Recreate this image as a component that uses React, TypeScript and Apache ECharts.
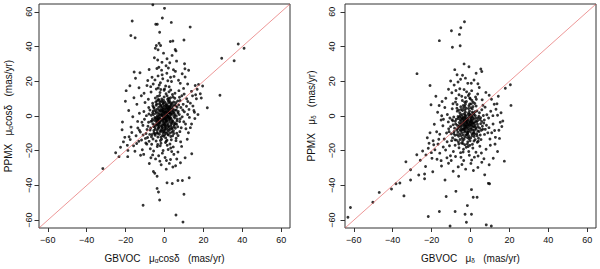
import React, { useEffect, useRef } from "react";
import * as echarts from "echarts";

const ticks = [-60, -40, -20, 0, 20, 40, 60];
const axisMin = -64.5;
const axisMax = 64.5;
const diagonal = [[-64.5, -64.5], [64.5, 64.5]];

const leftTitleX = "GBVOC   μ{sub|α}cosδ   (mas/yr)";
const leftTitleY = "PPMX   μ{sub|α}cosδ   (mas/yr)";
const rightTitleX = "GBVOC   μ{sub|δ}   (mas/yr)";
const rightTitleY = "PPMX   μ{sub|δ}   (mas/yr)";

const leftCore = [
  [-1.2,0.5],[2.3,1.8],[0.4,-2.1],[-3.5,-1.7],[1.7,3.9],[-0.8,-4.6],[3.1,-0.9],[-2.4,2.7],[4.6,2.2],[-4.1,-5.3],
  [0.9,5.1],[-1.9,-2.8],[2.8,-3.4],[-0.3,1.6],[1.4,-1.1],[-2.9,0.8],[3.7,4.8],[-5.2,-2.4],[0.2,-6.3],[5.4,0.6],
  [-1.6,4.1],[2.1,-5.6],[-3.3,-7.2],[4.2,-2.7],[-0.5,7.4],[1.1,2.6],[-4.6,1.5],[3.4,6.9],[-2.2,-9.1],[0.7,-0.4],
  [6.1,3.3],[-6.0,-4.4],[1.9,8.6],[-1.0,-11.2],[4.9,-5.1],[-3.8,3.9],[2.6,0.2],[-0.1,-3.6],[5.8,5.9],[-5.5,-8.3],
  [0.3,3.0],[-2.6,-0.3],[3.0,-7.7],[-4.3,6.2],[1.5,-9.4],[-1.4,9.8],[6.6,-1.8],[-6.8,0.4],[2.4,4.5],[-0.9,-7.9],
  [4.0,1.0],[-3.0,-3.9],[0.6,-12.6],[-2.0,5.6],[3.6,2.9],[-4.9,-6.5],[1.2,6.3],[-1.7,-5.8],[5.1,-3.9],[-3.6,0.1],
  [0.0,0.9],[2.9,-2.0],[-1.3,2.2],[1.8,-4.3],[-2.7,-6.1],[4.4,4.0],[-0.6,-1.4],[2.2,7.6],[-5.8,2.9],[3.3,-5.9],
  [-0.2,10.9],[1.0,-7.0],[-4.0,-9.8],[6.9,1.7],[-2.3,7.9],[0.8,-2.9],[3.9,-9.2],[-3.1,-1.1],[1.6,0.0],[-1.1,3.4],
  [7.3,6.4],[-7.1,-6.9],[2.0,-0.7],[-0.4,-8.8],[4.7,8.1],[-5.0,-0.9],[0.5,1.9],[2.7,5.4],[-2.8,-4.8],[5.6,-7.1],
  [-1.5,-13.4],[1.3,11.6],[-3.9,8.8],[3.2,-11.8],[-6.4,-10.7],[7.8,-3.2],[0.1,-4.9],[-0.7,6.7],[2.5,-6.6],[-4.4,-3.0],
  [-0.4,-0.6],[1.5,1.3],[-1.6,-1.9],[0.9,-1.6],[-2.1,1.1],[2.4,-1.3],[-0.8,2.8],[1.0,-3.2],[-2.5,-3.3],[3.3,0.9],
  [0.2,4.2],[-3.4,-2.4],[2.0,3.4],[-1.2,-5.5],[3.8,-4.1],[-4.6,-1.3],[0.4,-8.1],[-1.9,6.4],[4.3,5.9],[-3.7,-8.4],
  [1.8,-6.1],[-0.5,9.1],[5.3,-1.2],[-5.3,4.4],[2.9,8.0],[-2.6,-10.5],[6.2,-4.8],[-6.4,-2.8],[0.7,-10.0],[-0.1,5.7],
  [4.6,-8.5],[-4.8,-11.1],[7.1,2.6],[-7.4,-8.1],[3.1,10.5],[-3.1,9.6],[5.9,7.7],[-5.9,-13.2],[8.6,-6.8],[-8.0,1.2],
  [-0.9,-2.5],[1.9,-0.2],[-2.8,3.6],[0.6,6.0],[3.5,-1.7],[-1.4,-7.0],[2.6,3.2],[-3.9,-0.6],[0.1,-10.8],[4.8,-0.3],
  [-5.1,-5.1],[1.6,9.7],[-0.2,-5.2],[2.2,-8.3],[-3.0,5.0],[5.5,3.4],[-6.2,-1.7],[0.8,12.8],[-1.8,-12.2],[3.9,7.3],
  [-4.5,8.0],[6.4,-2.9],[-7.0,-3.1],[1.3,-13.9],[-2.3,13.5],[4.2,-11.4],[-5.4,-9.6],[7.6,0.8],[-0.6,4.7],[2.9,1.5],
  [-3.2,-5.5],[1.1,-5.0],[-1.1,0.0],[3.0,4.2],[-4.2,2.4],[0.4,-1.3],[5.0,-6.0],[-2.0,-8.2],[1.8,5.8],[-6.0,5.9],
  [-0.4,2.4],[1.3,-2.6],[-2.4,-1.2],[2.5,2.0],[-1.4,5.3],[0.2,-7.4],[3.4,-4.8],[-3.8,-3.5],[1.0,4.0],[-0.8,-9.7],
  [4.1,-6.8],[-4.7,-7.6],[2.1,10.2],[-2.9,9.0],[5.2,6.5],[-5.7,0.9],
  [-0.3,-1.8],[1.2,0.7],[-1.8,0.4],[0.7,2.3],[2.1,-2.4],[-2.2,-4.1],[0.3,-4.0],[-1.0,-6.6],[1.6,-7.8],[-3.3,1.9],
  [2.7,-1.1],[-0.6,3.9],[3.5,1.9],[-2.9,-2.0],[0.9,7.1],[-1.6,8.6],[4.0,-3.2],[-4.0,-4.6],[2.3,5.1],[-4.8,3.2],
  [0.0,-9.3],[1.7,-10.6],[-3.5,-10.0],[5.0,1.6],[-5.6,-6.0],[3.8,-7.4],[-2.0,3.0],[0.4,0.3],[-0.9,-3.2],[1.4,4.7],
  [-1.5,-8.7],[2.9,-9.8],[-2.6,6.9],[4.5,3.0],[-4.1,-1.9],[0.6,-5.9],[3.2,6.0],[-3.0,-6.8],[1.9,2.2],[-1.1,1.2],
  [5.6,-4.4],[-6.1,1.9],[0.2,8.0],[-0.4,-11.7],[6.1,0.0],[-3.9,6.9],[2.5,9.2],[-5.0,-10.2],[4.8,-10.1],[-2.1,-14.1]
];

const leftHalo = [
  [8.4,4.9],[-8.2,-3.6],[5.3,10.2],[-5.6,5.1],[9.1,-0.5],[-9.0,-7.8],[6.3,-9.9],[-7.5,3.4],[4.1,12.4],[-3.4,-12.1],
  [8.0,8.9],[-8.7,-12.4],[10.2,2.4],[-10.3,-1.9],[6.8,-6.2],[-6.1,7.3],[3.5,-13.7],[-2.5,11.8],[9.6,6.7],[-9.5,-10.1],
  [7.0,-11.3],[-7.9,-14.6],[11.3,5.6],[-11.1,-5.4],[2.3,13.9],[-1.8,-15.7],[5.9,-14.2],[-4.7,10.4],[10.8,-4.6],[-10.6,2.6],
  [12.0,8.3],[-12.4,-9.2],[8.9,11.7],[-6.6,-16.3],[1.4,-16.9],[-0.2,14.8],[4.5,-17.8],[-3.2,16.1],[11.9,0.9],[-11.8,-13.8],
  [-4.2,15.6],[0.6,17.3],[-2.1,19.2],[2.4,16.8],[-5.8,18.4],[-0.9,21.5],[3.6,19.9],[-3.3,23.1],[1.2,24.6],[-6.4,22.3],
  [4.9,22.8],[-1.5,26.4],[0.8,28.9],[2.7,30.7],[-2.9,28.1],[5.6,25.7],[-7.1,16.9],[7.4,14.6],[-8.6,20.4],[8.1,18.8],
  [-10.5,13.1],[9.8,15.9],[-12.6,24.9],[-14.9,21.7],[-13.1,16.3],[11.9,18.4],[13.9,14.2],[15.8,17.6],[16.8,15.4],[17.5,18.2],
  [19.6,17.3],[18.4,12.8],[-19.7,14.6],[-17.8,17.4],[-15.6,25.3],[12.4,26.3],[10.6,22.5],[6.2,31.6],[-5.2,33.5],[3.9,34.9],
  [-0.5,36.2],[10.3,30.1],[10.5,27.2],[1.3,33.0],[-3.5,32.2],
  [-3.7,-17.6],[1.9,-19.3],[-1.1,-21.4],[3.2,-18.4],[-5.6,-20.2],[0.3,-23.9],[4.8,-22.1],[-2.4,-26.0],[2.5,-27.3],[-7.3,-18.9],
  [6.9,-20.8],[-4.6,-24.7],[5.7,-28.6],[-9.1,-16.2],[8.8,-17.5],[-11.4,-19.4],[-13.2,-14.5],[-15.9,-17.2],[-17.6,-13.6],[-19.1,-16.9],
  [-20.4,-12.3],[-22.6,-18.0],[-23.4,-23.4],[-18.8,-19.8],[-18.9,-23.4],[-25.1,-21.2],[-14.6,-11.4],[-21.8,-7.9],[-17.2,-6.4],[-13.8,-3.1],
  [-16.3,-0.4],[-12.3,-22.6],[11.7,-13.4],[14.0,-21.7],[10.6,-24.1],[8.2,-26.9],[4.3,-29.4],[0.9,-30.6],[-7.8,-27.4],[12.3,-9.6],
  [13.9,-4.6],[15.6,-1.5],[17.2,0.8],[15.1,3.2],[13.3,7.4],[16.4,9.9],[14.4,11.6],[-14.2,6.7],[-15.7,10.5],[-18.4,3.2],
  [-20.1,8.5],[-21.6,-3.5],[-12.9,-8.2],[15.4,2.1],[12.8,-0.8],
  [-8.5,-5.9],[2.0,-11.0],[-1.0,8.1],[4.4,10.9],[-3.6,11.3],[6.8,8.7],[-7.6,-10.6],[9.4,3.5],[-9.3,0.2],[8.1,-1.6],
  [0.0,15.5],[-2.7,17.9],[1.7,20.3],[-4.9,20.8],[3.1,22.3],[-1.2,23.7],[-6.9,13.8],[5.4,13.1],[7.7,10.8],[-8.3,9.6],
  [0.5,-15.3],[-2.2,-17.1],[2.8,-16.1],[-4.3,-14.4],[6.0,-12.8],[-0.7,-19.9],[3.7,-20.5],[-6.1,-22.4],[1.0,-25.6],[-3.0,-22.9],
  [8.3,-14.9],[-9.8,-12.9],[11.0,-7.3],[-11.6,-3.6],[12.6,3.8],[-12.9,1.6],[10.1,12.6],[-10.0,7.8],[13.3,-6.7],[-13.7,-6.9],
  [0.9,-14.6],[-1.9,15.3],[3.2,15.0],[-3.5,-16.4],[6.5,5.0],[-6.7,-12.0],[7.9,-9.0],[-8.1,4.9],[9.9,-3.3],[-9.6,-15.5],
  [11.4,9.9],[-11.0,-10.9],[-14.3,-15.8],[14.6,5.7],[-16.8,-9.5],[-18.2,-11.9],[-21.1,-14.9],[-15.2,-20.3],[16.0,12.2],[18.9,10.4],
  [-11.9,11.7],[-9.0,17.5],[7.2,20.6],[9.1,24.3],[-7.9,26.8],[-3.9,27.4],[2.0,27.6],[4.6,26.6],[-1.3,30.9],[-10.7,-22.1],
  [-7.0,-24.0],[3.1,-25.0],[6.3,-24.8],[-1.7,-28.1]
];

const leftOutliers = [
  [-6.0,64.0],[0.0,62.0],[-1.1,56.4],[3.5,53.9],[-16.6,54.7],[-4.5,52.8],[-3.7,52.8],[13.2,51.2],[-2.5,48.2],[-17.3,46.3],
  [-15.1,45.0],[10.0,43.8],[3.0,42.9],[4.3,43.2],[-2.8,41.9],[-4.2,40.6],[-2.0,40.6],[-4.7,39.0],[-3.3,38.1],[5.5,38.3],
  [5.9,37.5],[37.9,41.5],[40.9,39.0],[35.8,31.8],[29.4,33.3],[28.5,12.0],[22.0,4.8],[-31.7,-30.3],[-5.7,-32.0],[-5.0,-33.0],
  [-3.8,-34.7],[1.3,-38.5],[4.0,-38.9],[6.9,-37.1],[9.2,-37.1],[12.7,-35.6],[-3.8,-41.7],[-3.1,-43.8],[-2.5,-48.4],[-11.0,-51.4],
  [10.0,-45.1],[5.9,-57.0],[9.5,-61.1]
];

const rightCore = [
  [-2.4,-2.1],[0.8,0.6],[-4.1,-5.3],[1.6,-3.8],[-6.3,-1.4],[-0.5,2.9],[2.7,-6.6],[-3.2,1.3],[-5.4,-7.9],[3.9,-1.2],
  [-1.3,-9.4],[0.2,4.8],[-7.6,-4.6],[4.6,1.9],[-2.9,-12.1],[-4.8,3.7],[1.1,-8.1],[-0.7,-0.3],[5.2,-4.4],[-8.4,-8.9],
  [-3.7,6.1],[2.3,2.4],[-1.8,-6.3],[-6.1,-11.7],[3.2,-10.2],[-9.1,-2.7],[0.4,-2.6],[-2.1,8.4],[6.3,-7.6],[-5.2,0.4],
  [-0.2,-14.3],[2.9,5.7],[-7.2,-13.9],[4.1,-12.8],[-3.4,-3.6],[1.9,0.9],[-4.4,-9.6],[-1.0,1.8],[7.1,-2.3],[-10.2,-6.1],
  [-2.6,10.6],[0.9,-11.4],[-6.8,2.8],[5.8,3.6],[-1.5,-4.9],[-3.9,-15.8],[3.5,-15.1],[-8.6,-0.6],[1.4,7.9],[-5.7,-5.8],
  [-0.9,-7.4],[2.0,-4.1],[-4.6,-1.0],[-2.2,4.4],[0.6,-5.7],[-6.5,-9.2],[4.4,-8.9],[-3.0,-0.8],[1.7,-1.6],[-1.9,-10.7],
  [-8.0,-11.1],[6.6,0.3],[-5.0,5.3],[-0.3,-16.9],[3.0,9.6],[-9.7,-14.2],[8.2,-5.3],[-11.4,-3.4],[-2.8,-7.0],[0.0,-1.0],
  [-4.2,8.9],[5.0,-10.9],[-7.9,-16.8],[2.4,-13.6],[-1.1,11.8],[-12.3,-9.8],[7.5,5.1],[-6.9,6.6],[9.3,-1.1],[-3.6,-19.1],
  [-1.7,-3.1],[0.3,-1.9],[-3.5,-4.4],[-0.4,-5.4],[-2.7,0.5],[1.2,-4.8],[-4.9,-2.9],[-1.0,-8.3],[0.9,2.1],[-3.1,-6.8],
  [2.6,-2.9],[-5.8,-3.8],[-2.3,-11.0],[-0.8,5.9],[3.9,-6.2],[-6.6,-7.2],[1.5,-9.9],[-4.1,3.1],[4.3,-0.1],[-7.3,-1.9],
  [-3.3,-13.4],[0.1,-12.7],[-5.6,-10.3],[2.2,7.2],[-1.6,-16.1],[6.1,-5.9],[-8.9,-5.1],[-2.6,6.9],[3.1,-3.5],[-9.9,-10.2],
  [5.4,-13.6],[-6.2,-14.9],[-0.1,9.9],[7.2,-10.6],[-11.2,-7.4],[-4.5,11.4],[8.4,0.7],[-7.7,8.0],[2.0,-23.7],[-3.8,-20.8],
  [-2.0,-4.0],[0.5,-3.3],[-3.8,-1.8],[-1.2,0.8],[1.4,-6.4],[-4.7,-6.9],[-0.1,-8.9],[-2.9,3.4],[2.5,0.1],[-5.3,-2.2],
  [-1.6,-12.4],[0.9,4.0],[-6.7,-5.4],[3.6,-4.7],[-3.1,-9.3],[-0.4,6.9],[4.9,-2.0],[-7.8,-3.0],[1.9,-11.8],[-4.3,-12.8],
  [-2.4,0.0],[0.2,-6.9],[-3.9,-7.6],[2.1,-8.0],[-5.5,1.9],[-1.4,-14.9],[3.3,2.9],[-8.2,-7.0],[-0.6,12.8],[5.6,-8.2],
  [-6.0,-16.1],[1.0,-16.3],[-9.2,-12.6],[4.0,-14.5],[-3.0,8.0],[6.8,-4.1],[-10.6,-1.1],[-2.2,-18.0],[0.7,9.0],[-7.0,4.5],
  [-1.9,-1.6],[0.0,-4.3],[-3.2,-2.6],[-0.9,-6.0],[1.0,-2.4],[-2.5,-5.5],[-4.4,0.9],[-0.3,1.2],[2.3,-5.3],[-5.0,-8.6],
  [-1.3,-10.6],[1.8,-9.2],[-3.6,4.6],[-6.4,-0.3],[3.7,-8.6],[-4.0,-14.2],[0.4,7.0],[-8.6,-10.1],[5.2,-1.0],[-2.9,-16.5],
  [-4.3,-1.7],[-2.1,-3.7],[-0.5,-2.7],[-3.4,-5.8],[-1.1,-5.0],[0.6,-0.4],[-2.8,-8.3],[-5.1,-4.6],[1.9,-6.1],[-0.7,-11.8],
  [-2.2,-2.9],[-0.2,-3.6],[-3.6,-3.1],[-1.4,-1.2],[0.4,-7.7],[-4.2,-7.9],[-1.9,-7.2],[-2.6,2.1],[1.3,-0.9],[-5.6,-0.6],
  [-0.8,-13.1],[1.6,1.7],[-6.0,-6.4],[2.9,-7.3],[-3.7,-10.9],[-1.0,4.3],[3.7,-2.6],[-7.1,-8.0],[0.7,-10.2],[-4.8,-11.3],
  [-3.0,-1.1],[-0.9,-3.9],[-2.3,-5.9],[0.3,-5.0],[-4.5,-4.0],[-1.5,-9.8],[2.8,-1.3],[-6.9,-10.8],[-0.4,10.4],[4.7,-7.0],
  [-5.4,-13.5],[1.8,-14.4],[-8.0,-13.7],[3.4,-11.4],[-2.9,5.6],[5.8,-3.1],[-9.5,-2.1],[-1.2,-17.6],[1.3,5.4],[-6.1,3.4],
  [-2.7,-4.9],[-1.3,-2.2],[-3.9,-0.4],[0.9,-4.0],[-5.0,-5.7],[-2.0,-9.0],[-0.1,0.3],[-3.3,-7.8],[2.1,-10.5],[-4.6,-15.5]
];

const rightHalo = [
  [1.2,-18.5],[-5.9,-18.3],[4.8,-17.4],[-10.8,-17.1],[-13.5,-13.2],[8.9,-9.7],[10.4,2.7],[-14.2,-5.6],[-9.4,4.2],[6.0,9.3],
  [-2.0,13.9],[-7.4,10.1],[3.7,12.7],[-11.9,0.9],[11.6,-4.6],[-15.8,-10.5],[-8.8,-20.4],[2.8,-20.9],[-0.6,-22.6],[5.6,-21.3],
  [-4.9,-23.8],[-12.8,-19.6],[-16.7,-16.2],[-18.3,-19.4],[-20.1,-21.1],[-19.2,-14.3],[-21.7,-18.6],[-22.9,-22.4],[-24.6,-20.2],[-17.4,-9.1],
  [-15.1,-2.3],[-13.2,4.9],[-16.9,2.2],[-18.6,-4.8],[-20.8,-9.7],[12.8,-12.3],[14.6,-8.2],[13.9,0.4],[15.3,-3.6],[16.6,-2.9],
  [12.2,6.8],[10.8,9.6],[14.3,11.4],[7.9,13.6],[4.5,16.4],[-5.5,15.7],[-9.6,13.4],[-1.4,18.8],[1.8,20.7],[-6.4,19.6],
  [-4.1,23.5],[-5.1,21.2],[-10.2,20.2],[0.4,18.9],[13.6,7.0],[-17.8,11.4],[-14.6,8.3],[-20.3,6.5],[12.6,-16.2],[10.2,-16.8],
  [13.9,-20.4],[9.6,-28.1],[7.3,-33.9],[-2.5,-30.6],[-8.9,-31.8],[-11.3,-27.2],[-14.9,-28.8],[-17.2,-24.9],[-6.1,-34.7],[-19.4,-32.1],
  [-25.8,-25.5],[-27.6,-22.3],[-23.1,-29.1],[3.8,-29.6],[6.9,-24.6],[-4.4,-27.9],[0.6,-25.4],[-9.9,-25.6],[11.7,-24.3],[-15.8,-21.4],
  [7.6,-7.7],[-11.0,-9.0],[9.5,-6.7],[-12.0,-14.8],[2.6,11.0],[-5.9,12.2],[6.4,6.2],[-9.0,7.1],[10.9,-9.6],[-13.9,-1.9],
  [-3.3,15.2],[0.6,14.6],[-7.5,14.7],[3.8,18.6],[-2.6,21.8],[-8.4,17.8],[9.6,11.9],[-12.7,10.2],[-14.8,0.1],[11.5,0.2],
  [-0.9,-20.4],[-5.1,-21.1],[3.9,-23.0],[-7.7,-23.3],[0.2,-27.3],[-3.5,-25.6],[-10.3,-22.9],[5.8,-26.7],[-6.3,-29.3],[1.5,-31.4],
  [-12.1,-24.1],[-14.0,-17.9],[-16.3,-13.4],[-18.9,-16.6],[-21.3,-15.7],[-22.2,-12.5],[-19.8,-24.4],[-15.1,-25.7],[8.0,-19.2],[10.0,-13.2],
  [12.4,-8.4],[14.9,-12.9],[16.1,-6.0],[13.1,3.9],[15.7,1.9],[-16.1,6.0],[-11.3,15.4],[-6.9,23.8],[2.9,24.6],[-0.8,28.4]
];

const rightOutliers = [
  [-3.1,54.3],[-5.0,50.8],[-9.8,49.1],[-5.7,47.0],[-5.3,40.5],[-9.3,39.6],[-16.0,43.4],[-3.3,30.0],[-8.1,26.7],[5.3,27.1],
  [5.8,25.6],[-27.5,24.4],[-20.8,17.6],[20.5,18.0],[17.9,16.0],[20.8,6.1],[17.4,-26.0],[-33.2,-26.4],[-30.8,-31.0],[-26.6,-34.0],
  [-23.6,-33.4],[-23.6,-36.1],[-30.8,-36.9],[-36.3,-38.6],[-38.3,-39.0],[-40.6,-42.0],[-46.9,-44.0],[-34.2,-46.0],[-50.2,-49.7],[-61.7,-52.7],
  [-63.0,-58.3],[-21.7,-57.9],[-16.0,-55.0],[-13.1,-36.9],[-12.5,-46.4],[-7.5,-43.4],[-7.9,-55.0],[-2.8,-56.6],[-1.6,-51.6],[0.5,-42.4],
  [1.4,-46.8],[3.4,-46.8],[0.5,-56.6],[-2.1,-61.2],[-10.5,-63.4],[8.1,-62.7],[10.7,-63.3],[9.8,-39.0],[9.2,-38.8]
];

const FONT = "'Liberation Sans', Arial, Helvetica, sans-serif";
const fmt = (v: number) => (v < 0 ? "\u2212" + Math.abs(v) : String(v));

const rich = {
  sub: { fontSize: 6.5, fontFamily: FONT, color: "#111", padding: [4, 0, 0, 0] },
};

function makeX(gridIndex: number, name: string) {
  return {
    type: "value",
    gridIndex,
    min: axisMin,
    max: axisMax,
    name,
    nameLocation: "middle",
    nameGap: 25,
    nameTextStyle: { fontSize: 10, fontFamily: FONT, color: "#111", rich },
    axisLine: { show: false, onZero: false },
    axisTick: { show: true, inside: false, length: 4, customValues: ticks, lineStyle: { color: "#333", width: 1 } },
    axisLabel: { customValues: ticks, margin: 7, fontSize: 9, fontFamily: FONT, color: "#111", formatter: fmt },
    splitLine: { show: false },
  };
}

function makeY(gridIndex: number, name: string, labelMargin: number, nameGap: number) {
  return {
    type: "value",
    gridIndex,
    min: axisMin,
    max: axisMax,
    name,
    nameLocation: "middle",
    nameGap,
    nameTextStyle: { fontSize: 10, fontFamily: FONT, color: "#111", rich },
    axisLine: { show: false, onZero: false },
    axisTick: { show: true, inside: false, length: 4.5, customValues: ticks, lineStyle: { color: "#333", width: 1 } },
    axisLabel: { customValues: ticks, margin: labelMargin, rotate: 90, fontSize: 9, fontFamily: FONT, color: "#111", formatter: fmt },
    splitLine: { show: false },
  };
}

function scatter(idx: number, data: number[][]) {
  return {
    type: "scatter",
    xAxisIndex: idx,
    yAxisIndex: idx,
    data,
    symbol: "circle",
    symbolSize: 2.9,
    itemStyle: { color: "#000" },
    silent: true,
    z: 2,
  };
}

function diag(idx: number) {
  return {
    type: "line",
    xAxisIndex: idx,
    yAxisIndex: idx,
    data: diagonal,
    showSymbol: false,
    symbol: "none",
    lineStyle: { color: "#e05050", width: 0.6 },
    silent: true,
    z: 5,
  };
}

export default function App() {
  const ref = useRef<HTMLDivElement>(null);
  useEffect(() => {
    if (!ref.current) return;
    const chart = echarts.init(ref.current, null, { renderer: "svg" });
    chart.setOption({
      animation: false,
      backgroundColor: "#fff",
      grid: [
        { left: 39, top: 4, width: 251, height: 226, show: true, borderColor: "#333", borderWidth: 1, backgroundColor: "transparent" },
        { left: 345, top: 4, width: 251, height: 226, show: true, borderColor: "#333", borderWidth: 1, backgroundColor: "transparent" },
      ],
      xAxis: [makeX(0, leftTitleX), makeX(1, rightTitleX)],
      yAxis: [makeY(0, leftTitleY, 6, 25), makeY(1, rightTitleY, 9, 28)],
      series: [
        scatter(0, [...leftCore, ...leftHalo, ...leftOutliers]),
        diag(0),
        scatter(1, [...rightCore, ...rightHalo, ...rightOutliers]),
        diag(1),
      ],
    });
    return () => chart.dispose();
  }, []);
  return <div ref={ref} style={{ position: "fixed", left: 0, top: 0, width: 600, height: 269 }} />;
}
